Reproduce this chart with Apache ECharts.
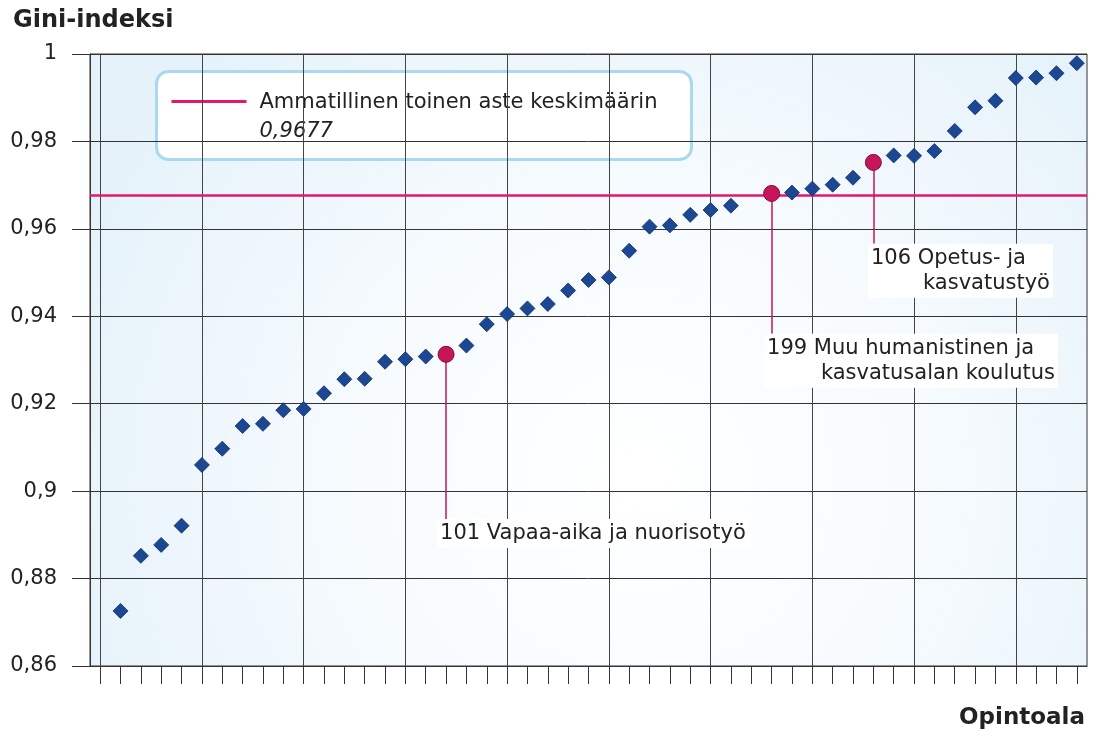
<!DOCTYPE html>
<html><head><meta charset="utf-8">
<script src="https://cdn.jsdelivr.net/npm/echarts@6/dist/echarts.min.js"></script>
<style>html,body{margin:0;padding:0;background:#fff}#c{width:1097px;height:736px}</style>
</head><body><div id="c"></div>
<script>
// Rank positions along the x axis (category slots)
const positions = ['0','1','2','3','4','5','6','7','8','9','10','11','12','13','14','15','16','17','18','19','20','21','22','23','24','25','26','27','28','29','30','31','32','33','34','35','36','37','38','39','40','41','42','43','44','45','46','47','48'];
// Gini index per field of study (slot 0 and 32 empty)
const gini = [null,
  0.8726, 0.8852, 0.8877, 0.8921, 0.9060, 0.9097, 0.9149, 0.9154, 0.9185, 0.9188,
  0.9224, 0.9256, 0.9257, 0.9296, 0.9302, 0.9308, 0.9313, 0.9333, 0.9382, 0.9405,
  0.9418, 0.9428, 0.9459, 0.9483, 0.9489, 0.9550, 0.9605, 0.9608, 0.9632, 0.9643,
  0.9653, null, 0.9681, 0.9683, 0.9692, 0.9701, 0.9717, 0.9752, 0.9768, 0.9767,
  0.9778, 0.9824, 0.9878, 0.9893, 0.9945, 0.9946, 0.9956, 0.9979];
// Highlighted fields
const highlightIdx = [17, 33, 38];
const highlightLines = [
  ['101 Vapaa-aika ja nuorisotyö'],
  ['199 Muu humanistinen ja', 'kasvatusalan koulutus'],
  ['106 Opetus- ja', 'kasvatustyö']
];
const highlightLabelTop = [0.8936, 0.9360, 0.9566];
// Average
const average = 0.9677;
const averageName = 'Ammatillinen toinen aste keskimäärin';
// Y axis
const yMin = 0.86, yMax = 1.0, yStep = 0.02;

const FONT = 'DejaVu Sans';
const TXT = '#222';
const fmt = v => String(parseFloat(v.toFixed(4))).replace('.', ',');

const diamonds = [];
gini.forEach((v, i) => { if (v != null && highlightIdx.indexOf(i) < 0) diamonds.push([i, v]); });
const reds = highlightIdx.map(i => [i, gini[i]]);
const leaders = highlightIdx.map((i, k) => [{coord: [i, gini[i]]}, {coord: [i, highlightLabelTop[k]]}]);
const labelDx = [-9, -7.6, -5.4];
const labelW = [null, 288, 179];
const annos = highlightIdx.map((i, k) => {
  const lines = highlightLines[k];
  const f = lines.length === 1 ? '{a|' + lines[0] + '}' : '{a|' + lines[0] + '}\n{b|' + lines[1] + '}';
  const lab = {formatter: f, position: [labelDx[k], 0]};
  if (labelW[k]) lab.width = labelW[k];
  return {value: [i, highlightLabelTop[k]], label: lab};
});

const chart = echarts.init(document.getElementById('c'), null, {renderer: 'canvas'});
chart.setOption({
  animation: false,
  backgroundColor: '#fff',
  textStyle: {fontFamily: FONT},
  title: [
    {text: 'Gini-indeksi', left: 13, top: 9, padding: 0,
     textStyle: {fontFamily: FONT, fontSize: 24, fontWeight: 'bold', color: TXT}},
    {text: 'Opintoala', right: 12, top: 707, padding: 0,
     textStyle: {fontFamily: FONT, fontSize: 23, fontWeight: 'bold', color: TXT}}
  ],
  grid: {
    left: 90, right: 10, top: 54, bottom: 70, show: true,
    borderColor: '#333', borderWidth: 1,
    backgroundColor: {type: 'radial', x: 0.55, y: 0.7, r: 1.0,
      colorStops: [{offset: 0, color: '#ffffff'}, {offset: 0.45, color: '#f7fbfe'}, {offset: 1, color: '#e5f2fa'}]}
  },
  xAxis: {
    type: 'category', data: positions, boundaryGap: true,
    axisLine: {show: true, lineStyle: {color: '#333', width: 1}},
    axisTick: {show: true, alignWithLabel: true, interval: 0, length: 18, lineStyle: {color: '#333', width: 1}},
    axisLabel: {show: false},
    splitLine: {show: true, alignWithLabel: true, interval: 4, lineStyle: {color: '#444', width: 1}}
  },
  yAxis: {
    type: 'value', min: yMin, max: yMax, interval: yStep,
    axisLine: {show: true, lineStyle: {color: '#333'}},
    axisTick: {show: true, length: 18, lineStyle: {color: '#333'}},
    axisLabel: {margin: 33, fontSize: 21, color: TXT, fontFamily: FONT, formatter: v => fmt(v)},
    splitLine: {show: true, lineStyle: {color: '#333', width: 1}}
  },
  graphic: [
    {type: 'group', left: 155, top: 70, z: 50, children: [
      {type: 'rect', shape: {x: 0, y: 0, width: 535, height: 88, r: 12},
       style: {fill: '#fff', stroke: '#a9d9f1', lineWidth: 3}},
      {type: 'line', shape: {x1: 15, y1: 30, x2: 90, y2: 30}, style: {stroke: '#e2186e', lineWidth: 3}},
      {type: 'text', x: 103, y: 31, style: {text: averageName, font: '21px "DejaVu Sans"', fill: TXT, verticalAlign: 'middle'}},
      {type: 'text', x: 103, y: 60, style: {text: fmt(average), font: 'italic 21px "DejaVu Sans"', fill: TXT, verticalAlign: 'middle'}}
    ]}
  ],
  series: [
    {name: averageName, type: 'line', data: [], z: 2,
     markLine: {silent: true, symbol: ['none', 'none'], z: 2, precision: 6, label: {show: false},
       lineStyle: {color: '#e2186e', width: 2.5, type: 'solid'}, data: [{yAxis: average}]}},
    {name: 'leaders', type: 'line', data: [], z: 2,
     markLine: {silent: true, symbol: ['none', 'none'], z: 2, precision: 6, label: {show: false},
       lineStyle: {color: '#c8155a', width: 1.5, type: 'solid'}, data: leaders}},
    {name: 'Opintoalat', type: 'scatter', data: diamonds, symbol: 'diamond', symbolSize: 15, z: 4,
     itemStyle: {color: '#1b4793', borderColor: '#0e2c66', borderWidth: 0.8, opacity: 1}},
    {name: 'Korostetut', type: 'scatter', data: reds, symbol: 'circle', symbolSize: 16, z: 5,
     itemStyle: {color: '#c6155a', borderColor: '#7d0d3a', borderWidth: 1, opacity: 1}},
    {name: 'annotations', type: 'scatter', data: annos, symbolSize: 0, z: 6, silent: true,
     itemStyle: {opacity: 1},
     label: {show: true, align: 'left', verticalAlign: 'top', backgroundColor: '#fff', padding: [2, 3, 2, 3],
       fontFamily: FONT, fontSize: 21, color: TXT, lineHeight: 25,
       rich: {a: {fontFamily: FONT, fontSize: 21, color: TXT, lineHeight: 25, align: 'left'},
              b: {fontFamily: FONT, fontSize: 21, color: TXT, lineHeight: 25, align: 'right'}}}}
  ]
});
</script></body></html>
